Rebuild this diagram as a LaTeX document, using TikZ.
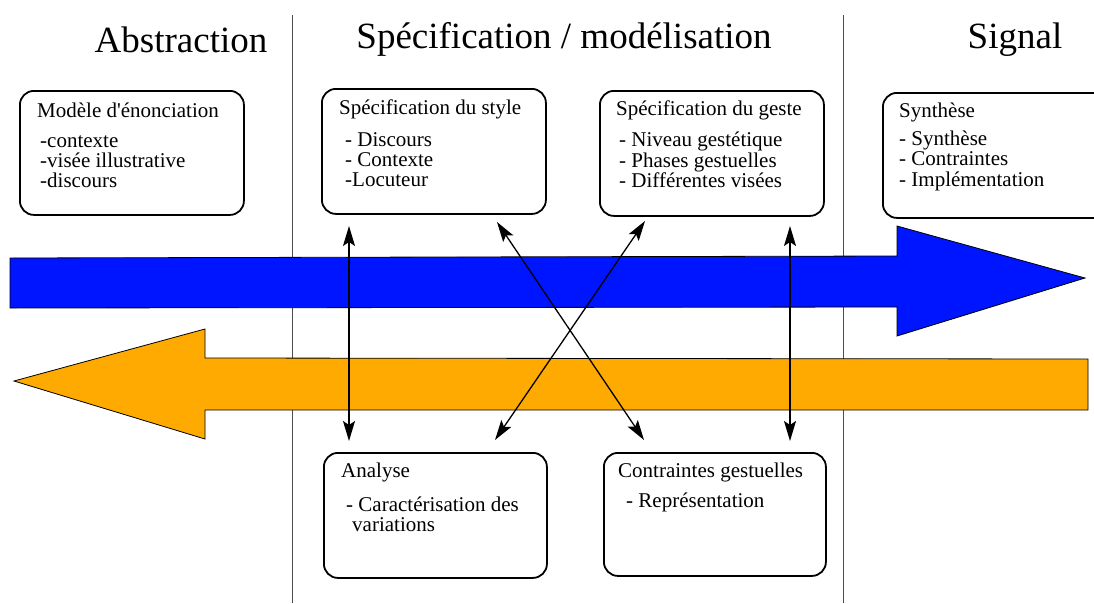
\documentclass[tikz,border=0pt]{standalone}
\usepackage{fontspec}
\setmainfont{Liberation Serif}
\usetikzlibrary{arrows.meta, positioning}
\definecolor{aller}{RGB}{0,21,255}
\definecolor{retour}{RGB}{255,170,0}

\begin{document}
\begin{tikzpicture}[x=1pt, y=-1pt,
  box/.style={draw, line width=1.8pt, rounded corners=14pt, anchor=north west, inner sep=0pt},
  txt/.style={anchor=base west, inner sep=0pt, font=\fontsize{21}{21}\selectfont},
  head/.style={anchor=base, inner sep=0pt, font=\fontsize{37}{37}\selectfont},
  link/.style={{Stealth[length=20pt,width=12pt,inset=4pt]}-{Stealth[length=20pt,width=12pt,inset=4pt]}, line width=1.3pt},
  band/.style={draw=black, line width=0.8pt}]
\clip (0,0) rectangle (1094,603);
% Separators
\draw[black!70, line width=1pt] (292,15) -- (292,603);
\draw[black!70, line width=1pt] (843,15) -- (843,603);
% Titles
\node[head] (abstr) at (181,52) {Abstraction};
\node[head] (specmod) at (564,48) {Spécification / modélisation};
\node[head] (signal) at (1015,48) {Signal};
% Big arrows
\draw[band, fill=aller] (10,258) -- (897,256) -- (897,226) -- (1085,278) -- (897,336)
  -- (897,307) -- (10,308) -- cycle;
\draw[band, fill=retour] (1088,359) -- (205,358) -- (205,329) -- (14,381) -- (205,439)
  -- (205,410) -- (1088,410) -- cycle;
% Boxes
\node[box, minimum width=224pt, minimum height=124pt] (modele) at (19,90) {};
\node[box, minimum width=224pt, minimum height=125pt] (style) at (321,88) {};
\node[box, minimum width=224pt, minimum height=125pt] (geste) at (599,90) {};
\node[box, minimum width=230pt, minimum height=125pt] (synth) at (882,92) {};
\node[box, minimum width=223pt, minimum height=125pt] (analyse) at (323,452) {};
\node[box, minimum width=222pt, minimum height=123pt] (contr) at (603,452) {};
% Box texts
\node[txt] (modeleT) at (37,117) {Modèle d\textquotesingle énonciation};
\foreach \t [count=\i] in {-contexte, -visée illustrative, -discours}
  \node[txt] (modele\i) at (40,127+20*\i) {\t};
\node[txt] (styleT) at (339,114) {Spécification du style};
\foreach \t [count=\i] in {- Discours, - Contexte, -Locuteur}
  \node[txt] (style\i) at (345,126+20*\i) {\t};
\node[txt] (gesteT) at (616,115) {Spécification du geste};
\foreach \t [count=\i] in {- Niveau gestétique, - Phases gestuelles, - Différentes visées}
  \node[txt] (geste\i) at (619,126+20.5*\i) {\t};
\node[txt] (synthT) at (899,117) {Synthèse};
\foreach \t [count=\i] in {- Synthèse, - Contraintes, - Implémentation}
  \node[txt] (synth\i) at (899,124.5+20.5*\i) {\t};
\node[txt] (analyseT) at (341,477) {Analyse};
\node[txt] (analyse1) at (346,511) {- Caractérisation des};
\node[txt] (analyse2) at (352,531) {variations};
\node[txt] (contrT) at (618,477) {Contraintes gestuelles};
\node[txt] (contr1) at (626,507) {- Représentation};
% Links
\coordinate (styleB) at (349,226);
\coordinate (analyseH) at (349,441);
\coordinate (gesteB) at (790,226);
\coordinate (contrH) at (790,441);
\coordinate (styleC) at (497,222);
\coordinate (contrC) at (644,440);
\coordinate (gesteC) at (645,221);
\coordinate (analyseC) at (495,440);
\draw[link] (styleB) -- (analyseH);
\draw[link] (gesteB) -- (contrH);
\draw[link] (styleC) -- (contrC);
\draw[link] (gesteC) -- (analyseC);
\end{tikzpicture}
\end{document}
